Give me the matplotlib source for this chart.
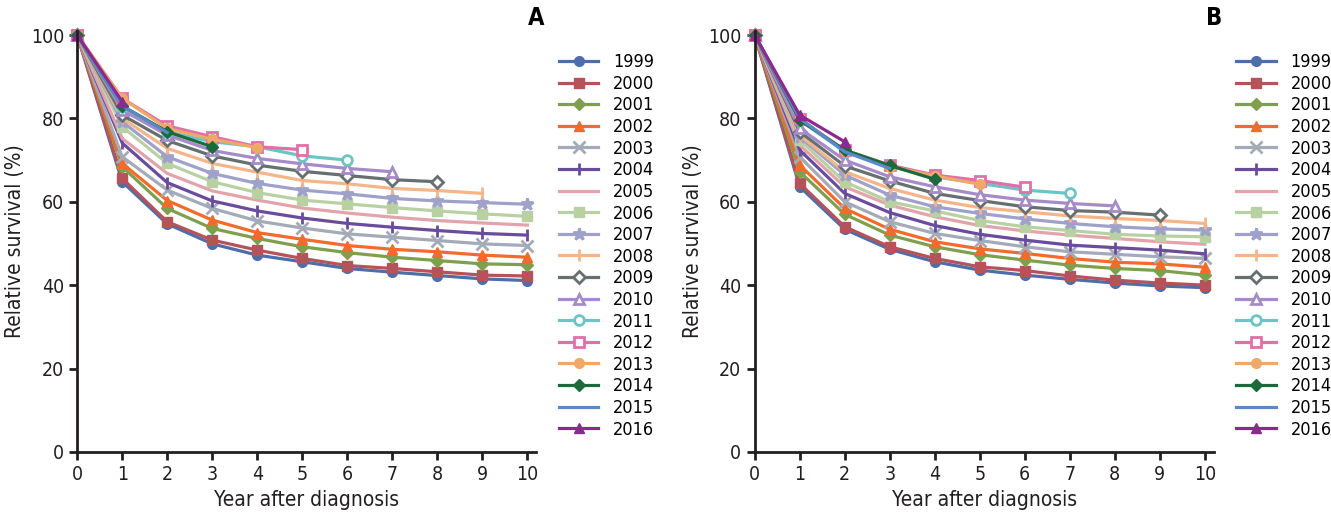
import matplotlib
matplotlib.use("Agg")
import matplotlib.pyplot as plt

plt.rcParams['font.family'] = ['Liberation Sans Narrow', 'DejaVu Sans']
plt.rcParams['font.stretch'] = 'condensed'

years = ['1999', '2000', '2001', '2002', '2003', '2004', '2005', '2006', '2007',
         '2008', '2009', '2010', '2011', '2012', '2013', '2014', '2015', '2016']

# panel A: relative survival (%) by year after diagnosis
surv_a = {
    '1999': [100, 64.8, 54.7, 49.9, 47.2, 45.6, 44.0, 43.1, 42.3, 41.5, 41.1],
    '2000': [100, 65.6, 55.2, 50.8, 48.4, 46.4, 44.7, 44.0, 43.2, 42.4, 42.2],
    '2001': [100, 68.4, 58.4, 53.6, 51.2, 49.2, 47.8, 46.7, 45.9, 45.1, 44.9],
    '2002': [100, 69.2, 60.3, 55.6, 52.6, 51.0, 49.5, 48.6, 48.0, 47.2, 46.7],
    '2003': [100, 70.8, 62.8, 58.4, 55.4, 53.7, 52.3, 51.5, 50.7, 49.9, 49.5],
    '2004': [100, 74.1, 64.6, 60.2, 57.8, 56.1, 54.8, 53.9, 53.1, 52.4, 52.0],
    '2005': [100, 75.2, 66.8, 62.6, 60.4, 58.5, 57.3, 56.3, 55.5, 54.9, 54.4],
    '2006': [100, 78.0, 69.2, 64.8, 62.2, 60.4, 59.5, 58.6, 57.8, 57.1, 56.5],
    '2007': [100, 79.2, 70.8, 66.8, 64.4, 62.8, 61.9, 60.8, 60.2, 59.8, 59.4],
    '2008': [100, 80.0, 72.8, 69.2, 67.1, 65.1, 64.3, 63.2, 62.7, 62.0],
    '2009': [100, 80.8, 74.7, 71.0, 68.8, 67.3, 66.3, 65.3, 64.8],
    '2010': [100, 82.0, 76.0, 72.3, 70.4, 69.1, 68.0, 67.2],
    '2011': [100, 82.8, 76.8, 74.4, 73.2, 71.0, 70.0],
    '2012': [100, 84.8, 78.2, 75.6, 73.2, 72.5],
    '2013': [100, 84.8, 77.6, 75.0, 73.0],
    '2014': [100, 83.0, 76.8, 73.2],
    '2015': [100, 83.0, 76.6],
    '2016': [100, 84.0],
}

# panel B
surv_b = {
    '1999': [100, 63.6, 53.4, 48.6, 45.6, 43.6, 42.4, 41.4, 40.5, 39.8, 39.4],
    '2000': [100, 64.4, 54.0, 49.2, 46.4, 44.4, 43.5, 42.2, 41.2, 40.5, 40.0],
    '2001': [100, 67.2, 57.0, 52.0, 49.2, 47.3, 46.0, 44.8, 44.0, 43.5, 42.4],
    '2002': [100, 68.8, 58.4, 53.4, 50.4, 48.7, 47.6, 46.4, 45.5, 45.1, 44.3],
    '2003': [100, 70.8, 60.0, 55.2, 52.4, 50.7, 49.2, 48.0, 47.4, 46.8, 46.4],
    '2004': [100, 72.4, 62.0, 57.4, 54.3, 52.2, 50.8, 49.6, 49.0, 48.4, 47.5],
    '2005': [100, 73.6, 63.6, 59.2, 56.4, 54.3, 53.0, 52.0, 51.2, 50.4, 49.8],
    '2006': [100, 74.8, 64.8, 60.0, 57.8, 55.5, 54.0, 53.1, 52.2, 51.8, 51.6],
    '2007': [100, 75.6, 66.4, 61.6, 58.8, 57.2, 55.9, 54.8, 54.0, 53.5, 53.2],
    '2008': [100, 76.0, 67.2, 63.2, 60.4, 58.6, 57.6, 56.6, 56.0, 55.5, 54.8],
    '2009': [100, 76.8, 68.6, 65.0, 62.0, 60.3, 58.8, 57.9, 57.5, 56.8],
    '2010': [100, 77.6, 70.0, 66.0, 63.6, 61.7, 60.4, 59.6, 59.0],
    '2011': [100, 79.6, 72.0, 68.6, 66.0, 64.4, 62.8, 62.0],
    '2012': [100, 79.8, 72.4, 68.8, 66.4, 65.1, 63.5],
    '2013': [100, 80.0, 72.2, 68.4, 66.2, 64.2],
    '2014': [100, 79.6, 72.4, 68.7, 65.4],
    '2015': [100, 80.0, 72.0, 68.0],
    '2016': [100, 80.8, 74.4],
}

colors = ['#4d6ea8', '#b5525a', '#7f9f4f', '#f26b2a', '#a3aab8', '#6a4c9c',
          '#e3a3aa', '#b9d1a2', '#9ea1c9', '#f5b58b', '#667070', '#a58cc8',
          '#6cc4c4', '#e070a8', '#f0a868', '#1b6b3a', '#5a88c8', '#8a2a90']
markers = ['o', 's', 'D', '^', 'x', '|', None, 's', '*', '|', 'D', '^',
           'o', 's', 'o', 'D', None, '^']
hollow = ['2009', '2010', '2011', '2012']

fig = plt.figure(figsize=(13.31, 5.23), dpi=100)
ax_a = fig.add_axes([0.058, 0.136, 0.345, 0.805])
ax_b = fig.add_axes([0.567, 0.136, 0.345, 0.805])


def draw_panel(ax, data, letter):
    for yr, c, m in zip(years, colors, markers):
        vals = data[yr]
        xs = list(range(len(vals)))
        kw = dict(color=c, lw=2.3, marker=m, markersize=7, label=yr,
                  markeredgecolor=c, clip_on=False)
        if m == 'x' or m == '|' or m == '*':
            kw['markeredgewidth'] = 2
            kw['markersize'] = 9
        if m == 'D':
            kw['markersize'] = 6.5
        if yr in hollow:
            kw['markerfacecolor'] = 'white'
            kw['markeredgewidth'] = 2
        ax.plot(xs, vals, **kw)
    ax.set_xlim(0, 10.2)
    ax.set_ylim(0, 101)
    ax.set_xticks(range(0, 11))
    ax.set_yticks(range(0, 101, 20))
    for s in ['top', 'right']:
        ax.spines[s].set_visible(False)
    for s in ['left', 'bottom']:
        ax.spines[s].set_linewidth(2)
        ax.spines[s].set_color('#231f20')
    ax.tick_params(direction='out', length=6, width=2, labelsize=14, colors='#231f20')
    ax.set_xlabel('Year after diagnosis', fontsize=15, color='#231f20')
    ax.set_ylabel('Relative survival (%)', fontsize=15, color='#231f20')
    ax.text(1.0, 1.031, letter, transform=ax.transAxes, fontsize=17,
            fontweight='bold', ha='center', va='center', family='DejaVu Sans')
    ax.legend(loc='upper left', bbox_to_anchor=(1.033, 0.964), frameon=False,
              fontsize=13, handlelength=2.2, labelspacing=0.2,
              handletextpad=0.8, borderaxespad=0)


draw_panel(ax_a, surv_a, 'A')
draw_panel(ax_b, surv_b, 'B')

fig.savefig('out.png', dpi=100)
